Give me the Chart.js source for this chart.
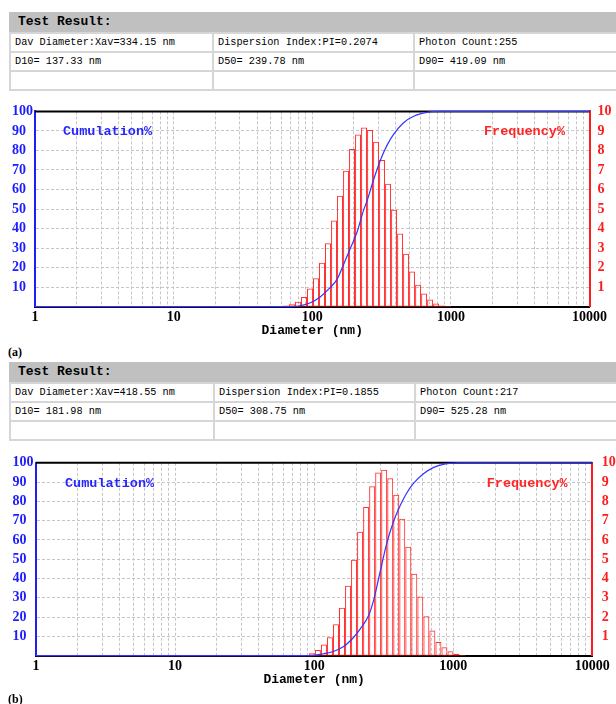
<!DOCTYPE html>
<html><head><meta charset="utf-8">
<script src="https://cdn.jsdelivr.net/npm/chart.js@4.4.0/dist/chart.umd.min.js"></script>
<style>
html,body{margin:0;padding:0;background:#fff;width:616px;height:704px;overflow:hidden;position:relative;}
.tbl{position:absolute;left:9px;width:607px;}
.hdr{position:absolute;left:0;top:0;width:607px;height:20px;background:#c0c0c0;font:bold 13px "Liberation Mono";line-height:20px;padding-left:9px;box-sizing:border-box;color:#000}
.tbl table{position:absolute;top:20px;left:0;border-collapse:collapse;width:607px;table-layout:fixed}
.tbl td{border:2px solid #d6d6d6;height:17px;padding:0 0 0 4px;font:10.25px "Liberation Mono";line-height:17px;white-space:nowrap;overflow:hidden;color:#000}
.lab{position:absolute;left:8px;font:bold 12px "Liberation Serif";color:#000}
canvas{position:absolute;left:0}
</style></head>
<body>
<div class="tbl" style="top:12px">
<div class="hdr">Test Result:</div>
<table><colgroup><col style="width:203px"><col style="width:201px"><col style="width:203px"></colgroup>
<tr><td>Dav Diameter:Xav=334.15 nm</td><td>Dispersion Index:PI=0.2074</td><td>Photon Count:255</td></tr>
<tr><td>D10= 137.33 nm</td><td>D50= 239.78 nm</td><td>D90= 419.09 nm</td></tr>
<tr><td></td><td></td><td></td></tr>
</table></div>
<canvas id="ca" width="616" height="250" style="top:95px"></canvas>
<div class="lab" style="top:345px">(a)</div>

<div class="tbl" style="top:362px">
<div class="hdr">Test Result:</div>
<table><colgroup><col style="width:204px"><col style="width:201px"><col style="width:202px"></colgroup>
<tr><td>Dav Diameter:Xav=418.55 nm</td><td>Dispersion Index:PI=0.1855</td><td>Photon Count:217</td></tr>
<tr><td>D10= 181.98 nm</td><td>D50= 308.75 nm</td><td>D90= 525.28 nm</td></tr>
<tr><td></td><td></td><td></td></tr>
</table></div>
<canvas id="cb" width="616" height="250" style="top:445px"></canvas>
<div class="lab" style="top:692px">(b)</div>

<script>
// bin centre diameters (nm)
const diameters = [58.5,64.6,71.4,78.9,87.2,96.3,106.4,117.6,129.9,143.6,158.6,175.3,193.6,213.9,236.4,261.2,288.6,318.8,352.3,389.2,430.1,475.2,525.0,580.1,641.0,708.2,782.5,864.6,955.3,1055.5,1166.2];
// frequency % (sample a, sample b)
const freqA = [0.03,0.06,0.12,0.25,0.5,0.93,1.46,2.25,3.25,4.42,5.68,6.96,8.07,8.82,9.18,9.05,8.45,7.51,6.29,4.97,3.75,2.71,1.8,1.13,0.67,0.37,0.16,0.06,0.03,null,null];
const freqB = [null,null,null,0.02,0.03,0.13,0.3,0.58,0.96,1.63,2.49,3.62,4.98,6.43,7.71,8.79,9.5,9.64,9.2,8.34,7.1,5.65,4.25,3.07,2.05,1.31,0.71,0.44,0.23,0.1,0.04];
// cumulation % curves
const cumDiaA = [1,60,75,82,97,114,135,151,168,188,210,235,248,277,310,346,387,456,539,673,795,10000];
const cumA    = [0,0,0.1,0.5,2,5,9.9,14,21.5,29.8,38,49.6,54,65,75,82.6,88.4,94.2,97.5,99.5,100,100];
const cumDiaB = [1,80,100,116,137,162,191,214,247,266,297,332,371,414,462,516,608,718,847,947,1100,10000];
const cumB    = [0,0,0.2,1,2.2,4.6,9.3,13.8,21,28,43,58,69.3,77.6,84.2,89.2,94.2,97.5,99.2,99.7,100,100];
// tick labels
const majorTicks = [1,10,100,1000,10000];
const xTitle = 'Diameter (nm)';
const leftLabel = 'Cumulation%';
const rightLabel = 'Frequency%';

const gridVals = [];
for (let i = 0; i < majorTicks.length - 1; i++) for (let m = 1; m <= 9; m++) gridVals.push(majorTicks[i] * m);
gridVals.push(majorTicks[majorTicks.length - 1]);

const overlay = {
  id: 'overlay',
  beforeDatasetsDraw(chart, args, o) {
    const {ctx, chartArea: a} = chart;
    ctx.save();
    ctx.strokeStyle = '#000'; ctx.lineWidth = 2;
    ctx.beginPath(); ctx.moveTo(a.left, a.top); ctx.lineTo(a.right, a.top); ctx.stroke();
    ctx.font = 'bold 13.5px "Liberation Mono"'; ctx.textBaseline = 'middle';
    ctx.fillStyle = '#2626ff'; ctx.textAlign = 'left';
    ctx.fillText(leftLabel, a.left + o.lx, a.top + o.ty);
    ctx.fillStyle = '#ff2626'; ctx.textAlign = 'right';
    ctx.fillText(rightLabel, a.right - o.rx, a.top + o.ty);
    ctx.restore();
  }
};

function makeChart(id, freq, cumD, cumV, g) {
  const tickFont = {family: 'Liberation Serif', weight: 'bold', size: 14};
  return new Chart(document.getElementById(id), {
    type: 'bar',
    data: {
      datasets: [
        {type: 'line', data: cumD.map((d, i) => ({x: d, y: cumV[i]})), yAxisID: 'y',
         borderColor: '#3535ff', borderWidth: 1.2, pointRadius: 0, cubicInterpolationMode: 'monotone',
         fill: false, clip: false, order: 0},
        {type: 'bar', data: diameters.map((d, i) => ({x: d, y: freq[i]})), yAxisID: 'y1',
         borderColor: '#ff3030', backgroundColor: 'rgba(255,255,255,0)', borderWidth: 1, borderSkipped: false,
         inflateAmount: 0, barPercentage: 1, categoryPercentage: 1, order: 1}
      ]
    },
    options: {
      responsive: false, animation: false, devicePixelRatio: 1,
      layout: {padding: {left: g.pl, top: g.pt, right: 0, bottom: 0}},
      plugins: {legend: {display: false}, tooltip: {enabled: false}, overlay: g.ov},
      scales: {
        x: {type: 'logarithmic', min: 1, max: 10000, offset: false,
            grid: {color: '#c6c6c6', drawTicks: false, offset: false},
            border: {color: '#000', width: 2, dash: [3, 2]},
            ticks: {autoSkip: false, maxRotation: 0, padding: g.xtp, color: '#000', font: tickFont,
                    callback: v => majorTicks.includes(v) ? String(v) : ''},
            afterBuildTicks: s => { s.ticks = gridVals.map(v => ({value: v})); },
            afterFit: s => { s.height = g.xh; },
            title: {display: true, text: xTitle, color: '#000',
                    font: {family: 'Liberation Mono', weight: 'bold', size: 13}, padding: {top: 0, bottom: g.tpb}}},
        y: {position: 'left', min: 0, max: 100,
            grid: {color: '#c6c6c6', drawTicks: false},
            border: {color: '#1c1cff', width: 2, dash: [3, 2]},
            ticks: {stepSize: 10, autoSkip: false, padding: 0, crossAlign: 'far', color: '#1c1cff', font: tickFont,
                    callback: v => v === 0 ? '' : String(v)},
            afterFit: s => { s.width = g.yw; }},
        y1: {position: 'right', min: 0, max: 10,
             grid: {display: false, drawTicks: false},
             border: {color: '#ff1c1c', width: 2},
             ticks: {stepSize: 1, autoSkip: false, padding: g.y1p, color: '#ff1c1c', font: tickFont,
                     callback: v => v === 0 ? '' : String(v)},
             afterFit: s => { s.width = g.y1w; }}
      }
    },
    plugins: [overlay]
  });
}

makeChart('ca', freqA, cumDiaA, cumA, {pl: 12, pt: 10.7, yw: 23, y1w: 26.5, y1p: 8, xh: 38.3, xtp: 2.5, tpb: 6.2,
  ov: {lx: 28, rx: 24.5, ty: 20.3}});
makeChart('cb', freqB, cumDiaB, cumB, {pl: 12.5, pt: 10.7, yw: 23.5, y1w: 23.7, y1p: 9.4, xh: 39.3, xtp: 2.2, tpb: 7.2,
  ov: {lx: 29, rx: 24.6, ty: 20.3}});
</script>
</body></html>
